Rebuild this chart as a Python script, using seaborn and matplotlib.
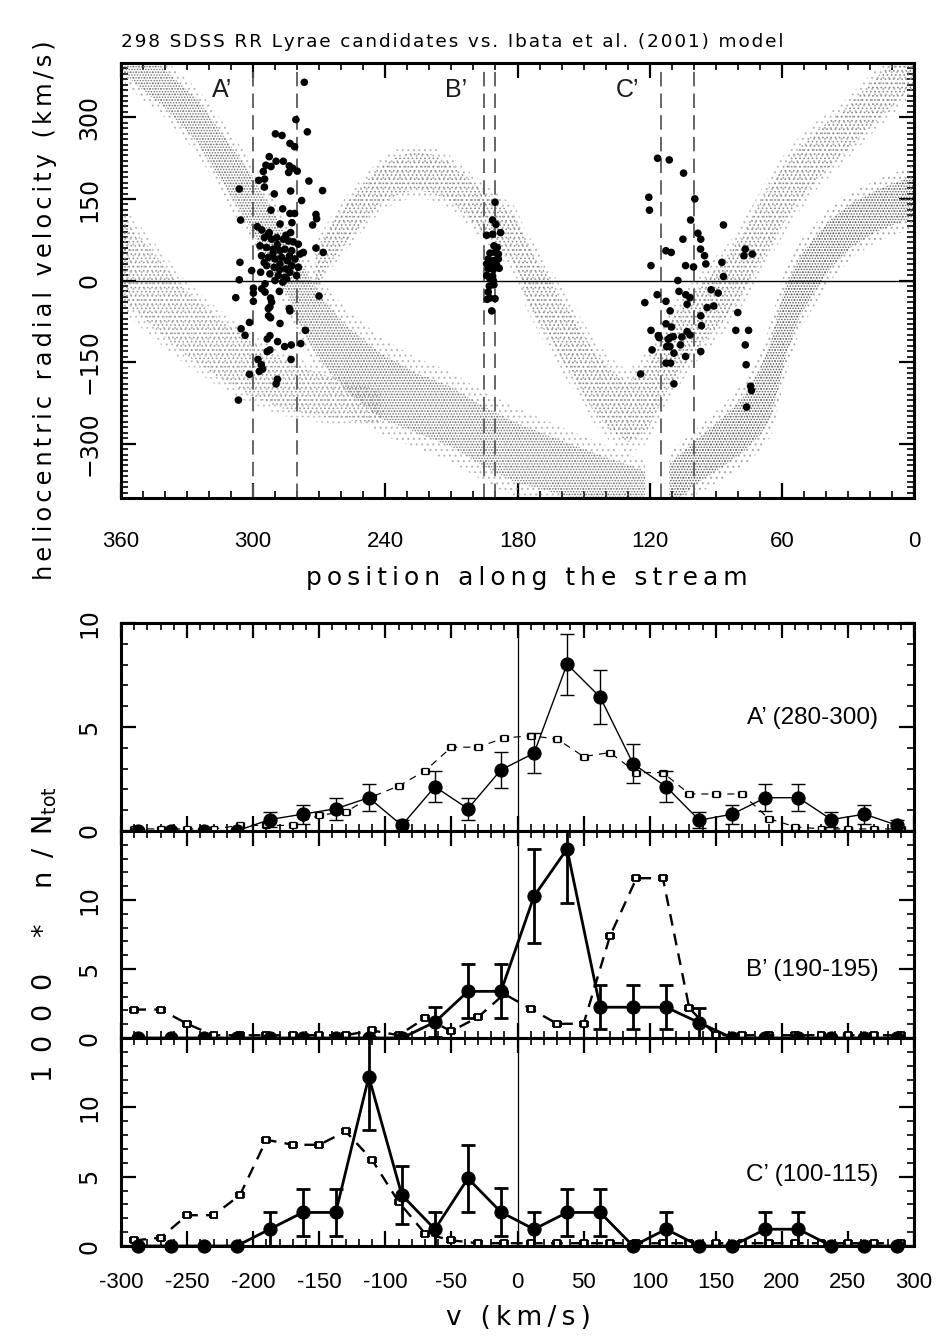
import numpy as np
import seaborn as sns
import matplotlib.pyplot as plt
from matplotlib.ticker import MultipleLocator, FixedLocator

# ---------------- top panel: RR Lyrae candidates ----------------
cand_pos = [
    # A' field
    276.8, 280.6, 289.9, 286.9, 275.4, 283.3, 281.2, 292.7, 289.6, 286.3, 294.2, 291.9, 283.6,
    282.1, 283.9, 280.0, 295.4, 297.5, 294.8, 274.7, 306.3, 294.9, 268.5, 283.0, 290.4, 278.0,
    286.6, 291.9, 283.3, 281.2, 305.7, 271.5, 271.2, 287.8, 282.4, 273.0, 298.1, 296.1, 283.0,
    292.7, 285.1, 294.9, 271.5, 268.2, 306.0, 300.7, 306.3, 307.9, 270.1,
    293.1, 291.6, 289.3, 286.3, 284.0, 281.8, 279.5, 296.9, 293.9, 290.9, 287.8, 285.6, 282.5,
    278.7, 277.2, 296.2, 293.1, 290.1, 287.1, 284.5, 281.0, 293.9, 290.5, 287.8, 285.1, 282.5,
    279.5, 296.6, 292.4, 288.6, 285.6, 283.3, 290.1, 286.6, 294.6, 284.8, 280.3, 289.0, 283.5,
    291.0, 288.0, 295.0,
    299.9, 299.9, 299.9, 296.1, 294.6, 288.1, 292.1, 291.6, 293.1, 292.4, 283.6, 283.3, 293.0,
    292.1, 287.8, 301.7, 305.5, 303.7, 276.3, 292.4, 293.6, 288.9, 285.7, 282.7, 278.4, 292.4,
    293.6, 297.8, 282.8, 296.3, 295.7, 297.2, 301.7, 289.0, 289.6, 306.7,
    # B' field
    190.2, 191.3, 189.8, 187.7, 194.0, 191.3, 190.7, 189.2, 192.5, 190.2, 188.7, 193.3, 191.0,
    188.7, 194.0, 191.7, 189.5, 193.3, 191.0, 188.3, 194.0, 191.3, 192.5, 191.0, 192.8, 190.7,
    193.3, 192.5, 193.7, 190.2, 191.7,
    # C' field
    116.4, 111.1, 104.6, 120.4, 99.5, 120.1, 101.4, 86.5, 98.1, 104.9, 96.8, 96.9, 112.6,
    110.2, 76.6, 77.2, 73.4, 95.1, 119.4, 103.7, 100.1, 94.5, 87.2, 86.5, 107.2, 106.7,
    116.6, 103.6, 101.7, 92.1, 88.9, 122.2, 112.6, 103.0, 110.7, 93.9, 90.9, 80.0, 96.8,
    112.6, 110.1, 96.5, 119.4, 103.0, 101.7, 80.9, 75.1, 116.1, 115.7, 111.6, 110.8, 109.3,
    105.4, 118.9, 112.3, 110.8, 106.0, 76.6, 109.0, 96.8, 103.7, 112.6, 110.5, 76.2, 124.1,
    109.0, 74.2, 73.8, 76.0,
]
cand_vel = [
    364.5, 295.9, 269.7, 266.7, 273.4, 252.1, 246.0, 227.8, 219.3, 219.3, 212.0, 209.6, 210.8,
    206.6, 198.7, 201.1, 200.5, 184.1, 186.5, 182.9, 168.3, 171.9, 165.3, 164.6, 159.2, 147.0,
    131.8, 129.4, 123.3, 123.3, 111.2, 121.5, 113.6, 103.9, 106.3, 102.1, 99.0, 93.0, 88.1,
    88.1, 83.2, 79.0, 59.6, 51.6, 33.4, 18.2, 1.2, -31.6, -28.5,
    85.1, 75.9, 79.0, 75.9, 72.9, 71.1, 66.8, 63.8, 60.8, 57.7, 54.7, 57.7, 54.7,
    48.6, 51.6, 45.6, 42.5, 39.5, 42.5, 36.5, 39.5, 27.4, 24.3, 30.4, 21.3, 27.4,
    24.3, 15.2, 12.2, 9.1, 6.1, 15.2, 0.0, -3.0, -6.1, 3.0, 9.1, 66.0, 45.0,
    50.0, 20.0, 33.0,
    -14.0, -23.1, -38.3, -15.2, -21.3, -20.0, -32.2, -39.5, -51.6, -48.6, -51.6, -55.9, -65.0,
    -68.6, -79.0, -77.1, -88.7, -100.8, -91.7, -101.4, -107.5, -112.4, -121.5, -118.5, -116.0, -127.6,
    -130.6, -145.2, -145.2, -154.9, -162.8, -167.0, -172.5, -181.6, -190.1, -219.9,
    144.0, 111.2, 103.3, 88.1, 83.2, 85.1, 63.8, 60.8, 50.4, 51.7, 48.6, 39.5, 36.5,
    39.5, 30.4, 27.4, 28.6, 21.3, 20.1, 22.5, 9.1, 7.9, 3.1, 0.0, -10.3, -7.9,
    -21.2, -32.2, -34.6, -33.4, -55.9,
    224.8, 221.8, 197.5, 153.1, 150.1, 129.4, 111.2, 102.1, 86.9, 75.9, 75.9, 57.7, 54.7,
    51.6, 57.7, 45.6, 48.6, 45.6, 27.4, 27.4, 24.9, 30.4, 33.4, 7.3, 0.0, -20.0,
    -26.1, -26.1, -31.6, -17.0, -23.1, -40.7, -38.3, -43.7, -55.9, -49.8, -46.8, -58.9, -65.0,
    -79.6, -85.6, -83.2, -91.7, -94.1, -100.2, -91.7, -91.7, -101.4, -105.1, -108.1, -105.1, -103.3,
    -103.9, -127.6, -121.5, -121.5, -118.5, -118.5, -133.6, -130.6, -139.7, -151.9, -151.9, -154.9, -171.9,
    -190.1, -194.4, -202.3, -232.7,
]

# Ibata et al. model stream, read as band centre lines and half widths (km/s)
lead_x = [362, 353, 340, 325, 313, 302, 293, 284, 278, 269, 257, 242, 226, 211, 196, 181, 161, 140, 122]
lead_y = [430, 395, 352, 292, 219, 152, 85, 24, -30, -91, -146, -194, -225, -249, -285, -316, -343, -370, -385]
lead_w = [35, 35, 35, 40, 45, 50, 55, 55, 60, 60, 60, 60, 55, 55, 55, 55, 50, 45, 35]

tail_x = [362, 347, 332, 317, 302, 287, 272, 257, 242]
tail_y = [50, -10, -73, -120, -160, -190, -208, -222, -232]
tail_w = [75, 70, 60, 55, 50, 45, 40, 35, 30]

arch_x = [272, 264, 257, 249, 242, 234, 227, 219, 211, 204, 196, 189, 181, 176, 168, 161, 153, 146,
          138, 130, 121, 111, 99, 85, 75, 65, 55, 44, 32, 20, 9, 0]
arch_y = [18, 73, 109, 146, 176, 194, 201, 197, 182, 158, 128, 103, 73, 18, -36, -84, -134, -182,
          -219, -243, -215, -134, -73, -12, 49, 122, 182, 231, 273, 322, 364, 400]
arch_w = [35, 35, 35, 35, 35, 35, 35, 35, 35, 35, 38, 40, 45, 50, 55, 55, 55, 55,
          55, 55, 60, 60, 55, 55, 55, 55, 50, 45, 40, 40, 40, 40]

right_x = [111, 99, 87, 78, 70, 65, 62, 58, 52, 46, 38, 28, 17, 0]
right_y = [-377, -334, -298, -267, -225, -182, -134, -73, -12, 24, 67, 103, 128, 155]
right_w = [40, 40, 45, 50, 60, 70, 70, 65, 55, 50, 45, 40, 38, 38]

field_edges = [300, 280, 195, 190, 115, 100]
field_names = ["A’", "B’", "C’"]
field_label_x = [314, 208, 130]

# ---------------- bottom panels: velocity histograms ----------------
v_bins = [-287.5, -262.5, -237.5, -212.5, -187.5, -162.5, -137.5, -112.5, -87.5, -62.5, -37.5, -12.5,
          12.5, 37.5, 62.5, 87.5, 112.5, 137.5, 162.5, 187.5, 212.5, 237.5, 262.5, 287.5]
v_model = [-290, -270, -250, -230, -210, -190, -170, -150, -130, -110, -90, -70, -50, -30, -10,
           10, 30, 50, 70, 90, 110, 130, 150, 170, 190, 210, 230, 250, 270, 290]

a_obs = [0, 0, 0, 0, 0.55, 0.81, 1.07, 1.60, 0.27, 2.13, 1.07, 2.94,
         3.74, 8.02, 6.44, 3.23, 2.13, 0.52, 0.81, 1.60, 1.60, 0.55, 0.81, 0.27]
a_err = [0, 0, 0, 0, 0.37, 0.46, 0.53, 0.65, 0.27, 0.75, 0.53, 0.88,
         0.97, 1.46, 1.29, 0.93, 0.75, 0.37, 0.46, 0.65, 0.65, 0.37, 0.46, 0.27]
a_model = [0.1, 0.1, 0.1, 0.1, 0.27, 0.27, 0.27, 0.76, 0.92, 1.65, 2.16, 2.89, 4.03, 4.03, 4.47,
           4.58, 4.42, 3.58, 3.77, 2.81, 2.81, 1.78, 1.78, 1.78, 0.6, 0.2, 0.1, 0.1, 0.1, 0.1]

b_obs = [0, 0, 0, 0, 0, 0, 0, 0, 0, 1.15, 3.38, 3.38,
         10.27, 13.7, 2.23, 2.23, 2.23, 1.11, 0, 0, 0, 0, 0, 0]
b_err = [0, 0, 0, 0, 0, 0, 0, 0, 0, 1.1, 1.95, 1.95,
         3.4, 3.9, 1.6, 1.6, 1.6, 1.1, 0, 0, 0, 0, 0, 0]
b_model = [2.06, 2.06, 1.03, 0.2, 0.2, 0.2, 0.2, 0.2, 0.2, 0.55, 0.2, 1.43, 0.5, 1.5, 3.19,
           2.11, 1.03, 1.03, 7.39, 11.58, 11.58, 2.16, 0.2, 0.2, 0.2, 0.2, 0.2, 0.2, 0.2, 0.2]

c_obs = [0, 0, 0, 0, 1.21, 2.42, 2.42, 12.2, 3.67, 1.21, 4.88, 2.44,
         1.21, 2.42, 2.42, 0, 1.21, 0, 0, 1.21, 1.21, 0, 0, 0]
c_err = [0, 0, 0, 0, 1.21, 1.71, 1.71, 3.83, 2.1, 1.21, 2.42, 1.71,
         1.21, 1.71, 1.71, 0, 1.21, 0, 0, 1.21, 1.21, 0, 0, 0]
c_model = [0.4, 0.6, 2.22, 2.22, 3.67, 7.66, 7.3, 7.3, 8.26, 6.21, 3.19, 0.9, 0.41, 0.2, 0.2,
           0.2, 0.2, 0.2, 0.2, 0.2, 0.2, 0.2, 0.2, 0.2, 0.2, 0.2, 0.2, 0.2, 0.2, 0.2]

panel_labels = ["A’ (280-300)", "B’ (190-195)", "C’ (100-115)"]
v_ticks = [-300, -250, -200, -150, -100, -50, 0, 50, 100, 150, 200, 250, 300]
v_ticklabels = ["-300", "-250", "-200", "-150", "-100", "-50", "0", "50", "100", "150", "200", "250", "300"]

sns.set_style("ticks")
plt.rcParams.update({
    "font.family": ["DejaVu Sans"],
    "text.color": "black", "axes.labelcolor": "black", "axes.edgecolor": "black",
    "xtick.color": "black", "ytick.color": "black",
    "axes.linewidth": 2.2,
    "xtick.direction": "in", "ytick.direction": "in",
    "xtick.top": True, "ytick.right": True,
    "xtick.major.size": 11, "ytick.major.size": 11,
    "xtick.minor.size": 5, "ytick.minor.size": 5,
    "xtick.major.width": 1.6, "ytick.major.width": 1.6,
    "xtick.minor.width": 1.2, "ytick.minor.width": 1.2,
    "hatch.linewidth": 0.7,
})

W, H = 940, 1338
fig = plt.figure(figsize=(W / 100, H / 100), dpi=100)


def rect(left, top, right, bottom):
    return [left / W, 1 - bottom / H, (right - left) / W, (bottom - top) / H]


def spaced(s, gap="\u2009"):
    return gap.join(s)


num_font = dict(family="Liberation Sans", fontsize=16)

# ---- top panel ----
ax0 = fig.add_axes(rect(121, 63, 914, 498))


def band(ax, x, y, w, hatch, color, widen=1.0):
    y, w = np.asarray(y, float), np.asarray(w, float) * widen
    ax.fill_between(x, y - w, y + w, facecolor="none", edgecolor=color,
                    linewidth=0, hatch=hatch, zorder=1)


# faint halo first, then the denser core of each stream branch
band(ax0, lead_x, lead_y, lead_w, "...", "0.7", 1.5)
band(ax0, tail_x, tail_y, tail_w, "...", "0.75", 1.3)
band(ax0, arch_x, arch_y, arch_w, "...", "0.72", 1.4)
band(ax0, right_x, right_y, right_w, "...", "0.65", 1.5)
band(ax0, lead_x, lead_y, lead_w, "......", "0.45")
band(ax0, tail_x, tail_y, tail_w, "....", "0.6")
band(ax0, arch_x, arch_y, arch_w, "....", "0.55")
band(ax0, right_x, right_y, right_w, "......", "0.35")

ax0.axhline(0, color="black", lw=1.0, zorder=2)
for xe in field_edges:
    ax0.axvline(xe, color="0.35", lw=1.3, ls=(0, (8, 4)), zorder=2)
for name, xl in zip(field_names, field_label_x):
    ax0.text(xl, 350, name, family="Liberation Sans", fontsize=18, color="0.1",
             ha="center", va="center")

sns.scatterplot(x=cand_pos, y=cand_vel, ax=ax0, color="black", s=30,
                edgecolor="none", zorder=5)

ax0.set_xlim(360, 0)
ax0.set_ylim(-400, 400)
ax0.xaxis.set_major_locator(FixedLocator([360, 300, 240, 180, 120, 60, 0]))
ax0.xaxis.set_minor_locator(MultipleLocator(10))
ax0.yaxis.set_major_locator(FixedLocator([-300, -150, 0, 150, 300]))
ax0.yaxis.set_minor_locator(MultipleLocator(10))
ax0.set_xticklabels(["360", "300", "240", "180", "120", "60", "0"], **num_font)
ax0.set_yticklabels(["−300", "−150", "0", "150", "300"], family="DejaVu Sans",
                    fontsize=17, rotation=90, va="center")
ax0.tick_params(axis="x", which="major", pad=24)
ax0.tick_params(axis="y", which="major", pad=14)

fig.text(121 / W, 1 - 47 / H,
         spaced("298 SDSS RR Lyrae candidates vs. Ibata et al. (2001) model", "\u200a"),
         ha="left", va="baseline", family="DejaVu Sans", fontsize=13.3)
fig.text(45 / W, 1 - 310 / H, spaced("heliocentric radial velocity (km/s)", "\u2006"),
         rotation=90, ha="center", va="center", family="DejaVu Sans", fontsize=17.4)
fig.text(527 / W, 1 - 578 / H, spaced("position along the stream"),
         ha="center", va="center", family="DejaVu Sans", fontsize=18)

# ---- bottom panels ----
tops = [623, 831, 1038, 1246]
ylims = [10, 15, 15]
obs_sets = [a_obs, b_obs, c_obs]
err_sets = [a_err, b_err, c_err]
model_sets = [a_model, b_model, c_model]
line_w = [1.0, 2.0, 2.0]
label_y = [0.543, 0.327, 0.34]

for i in range(3):
    ax = fig.add_axes(rect(121, tops[i], 914, tops[i + 1]))
    lw = line_w[i]
    ax.axvline(0, color="black", lw=0.9, zorder=1)

    # model histogram (dashed, open squares)
    sns.lineplot(x=v_model, y=model_sets[i], ax=ax, color="black", lw=lw * 0.85,
                 linestyle=(0, (5, 3.5)) if i else (0, (6, 5)), zorder=3)
    ax.errorbar(v_model, model_sets[i], xerr=3, fmt="s", ms=3.8, mfc="white", mec="black",
                mew=0.9 if i == 0 else 1.3, ecolor="black", elinewidth=0.9 if i == 0 else 1.3,
                capsize=2.5, zorder=4, clip_on=False)

    # observed counts with Poisson errors
    ax.errorbar(v_bins, obs_sets[i], yerr=err_sets[i], fmt="none", ecolor="black",
                elinewidth=lw, capsize=5, capthick=lw, zorder=5)
    sns.lineplot(x=v_bins, y=obs_sets[i], ax=ax, color="black", lw=lw, marker="o",
                 markersize=9.5, markeredgecolor="black", clip_on=False, zorder=6)

    ax.set_xlim(-300, 300)
    ax.set_ylim(0, ylims[i])
    ax.xaxis.set_major_locator(FixedLocator(v_ticks))
    ax.xaxis.set_minor_locator(MultipleLocator(10))
    ax.yaxis.set_major_locator(FixedLocator([0, 5, 10]))
    ax.yaxis.set_minor_locator(MultipleLocator(1))
    ax.set_yticklabels(["0", "5", "10"], family="DejaVu Sans", fontsize=17,
                       rotation=90, va="center")
    ax.tick_params(axis="y", which="major", pad=14)
    if i == 2:
        ax.set_xticklabels(v_ticklabels, **num_font)
        ax.tick_params(axis="x", which="major", pad=19)
    else:
        ax.set_xticklabels([])
    ax.set_xlabel("")
    ax.set_ylabel("")
    ax.text(0.955, label_y[i], panel_labels[i], transform=ax.transAxes, ha="right",
            va="center", family="Liberation Sans", fontsize=17.5)

fig.text(45 / W, 1 - 935 / H, spaced("1000 * n/N", "\u2002") + r"$_{\rm tot}$",
         rotation=90, ha="center", va="center", family="DejaVu Sans", fontsize=19.5)
fig.text(518 / W, 1 - 1318 / H, spaced("v (km/s)"),
         ha="center", va="center", family="DejaVu Sans", fontsize=19)

fig.savefig("out.png", dpi=100)
